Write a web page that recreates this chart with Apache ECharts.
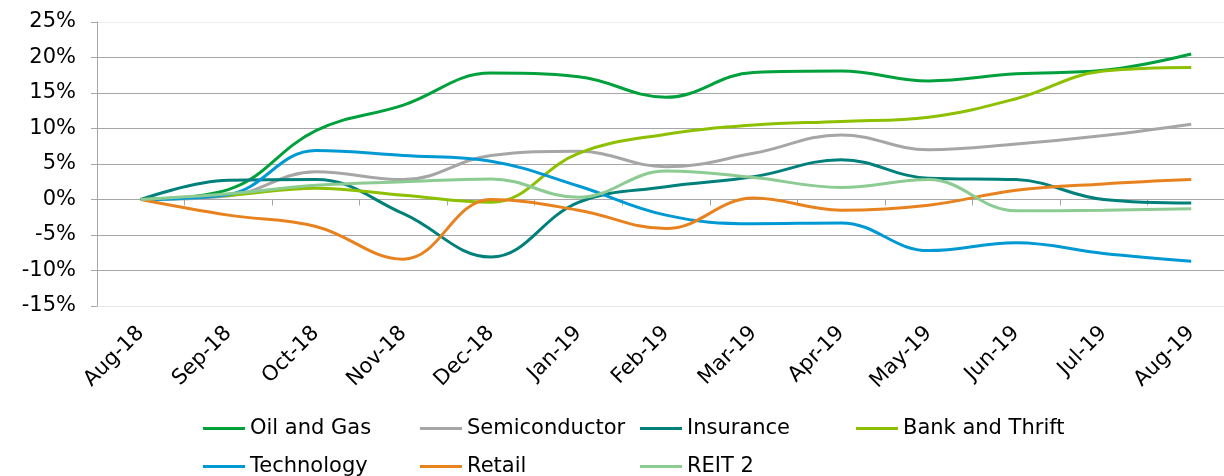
<!DOCTYPE html>
<html>
<head>
<meta charset="utf-8">
<script src="https://cdn.jsdelivr.net/npm/echarts@6/dist/echarts.min.js"></script>
<style>
  html, body { margin: 0; padding: 0; background: #fff; }
  #chart { width: 1224px; height: 476px; }
</style>
</head>
<body>
<div id="chart"></div>
<script>
const categories = ['Aug-18','Sep-18','Oct-18','Nov-18','Dec-18','Jan-19','Feb-19','Mar-19','Apr-19','May-19','Jun-19','Jul-19','Aug-19'];
const oilAndGas     = [0, 1.4, 9.7, 13.3, 17.8, 17.3, 14.4, 17.9, 18.1, 16.7, 17.7, 18.2, 20.5];
const semiconductor = [0, 0.5, 3.9, 2.8, 6.2, 6.8, 4.6, 6.5, 9.1, 7.0, 7.8, 9.0, 10.6];
const insurance     = [0, 2.7, 2.8, -2.0, -8.1, -0.4, 1.8, 3.2, 5.6, 3.0, 2.8, 0.0, -0.5];
const bankAndThrift = [0, 0.6, 1.6, 0.6, -0.4, 6.5, 9.2, 10.5, 11.0, 11.6, 14.2, 18.1, 18.6];
const technology    = [0, 0.7, 6.9, 6.2, 5.4, 1.9, -2.2, -3.4, -3.3, -7.2, -6.1, -7.6, -8.7];
const retail        = [0, -2.2, -3.8, -8.4, 0.0, -1.5, -4.1, 0.2, -1.5, -0.8, 1.3, 2.2, 2.8];
const reit2         = [0, 0.8, 2.0, 2.5, 2.9, 0.3, 4.0, 3.1, 1.7, 2.8, -1.6, -1.5, -1.3];

const seriesNames = ['Oil and Gas','Semiconductor','Insurance','Bank and Thrift','Technology','Retail','REIT 2'];
const seriesData = [oilAndGas, semiconductor, insurance, bankAndThrift, technology, retail, reit2];
const colors = ['#00A03C','#A6A6A6','#00807A','#8DC000','#0099D3','#E8821E','#8CCB92'];

const FONT = 'DejaVu Sans';
const legendPos = [
  [203, 418], [420, 418], [640, 418], [856, 418],
  [203, 456], [420, 456], [640, 456]
];

const chart = echarts.init(document.getElementById('chart'), null, { renderer: 'canvas' });
const option = {
  animation: false,
  color: colors,
  textStyle: { fontFamily: FONT },
  grid: { left: 97, top: 22, right: -11, bottom: 170, containLabel: false, outerBoundsMode: 'none' },
  legend: seriesNames.map((n, i) => ({
    data: [n],
    left: legendPos[i][0],
    top: legendPos[i][1],
    padding: 0,
    icon: 'rect',
    itemWidth: 42,
    itemHeight: 3,
    selectedMode: false,
    textStyle: { fontFamily: FONT, fontSize: 21, color: '#000' }
  })),
  xAxis: [
    {
      type: 'category',
      data: categories,
      position: 'bottom',
      boundaryGap: true,
      axisLine: { show: false, onZero: false },
      axisTick: { show: false },
      splitLine: { show: false },
      axisLabel: { rotate: 45, margin: 24, fontFamily: FONT, fontSize: 21, color: '#000', interval: 0 }
    },
    {
      type: 'category',
      data: categories,
      position: 'top',
      boundaryGap: true,
      axisLine: { show: true, onZero: true, lineStyle: { color: '#A6A6A6', width: 1 } },
      axisTick: { show: true, inside: true, length: 6, interval: 0, lineStyle: { color: '#A6A6A6' } },
      axisLabel: { show: false },
      splitLine: { show: false }
    }
  ],
  yAxis: {
    type: 'value',
    min: -15,
    max: 25,
    interval: 5,
    axisLine: { show: true, lineStyle: { color: '#A6A6A6', width: 1 } },
    axisTick: { show: true, length: 6, lineStyle: { color: '#A6A6A6' } },
    axisLabel: { formatter: '{value}%', margin: 21, fontFamily: FONT, fontSize: 21, color: '#000' },
    splitLine: {
      show: true,
      lineStyle: {
        width: 1,
        color: ['#E6E6E6','#A6A6A6','#A6A6A6','#A6A6A6','#A6A6A6','#A6A6A6','#A6A6A6','#A6A6A6','#EDEDED']
      }
    }
  },
  series: seriesNames.map((n, i) => ({
    name: n,
    type: 'line',
    xAxisIndex: 0,
    data: seriesData[i],
    smooth: 0.4,
    symbol: 'none',
    lineStyle: { width: 3, color: colors[i] },
    itemStyle: { color: colors[i] }
  }))
};
chart.setOption(option);
</script>
</body>
</html>
